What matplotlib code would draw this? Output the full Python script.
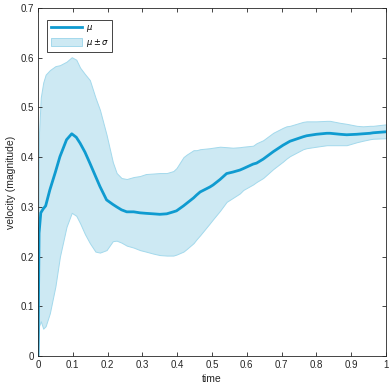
import matplotlib
matplotlib.use('Agg')
import matplotlib.pyplot as plt

# values
t = [0.0, 0.003, 0.008, 0.015, 0.022, 0.034, 0.05, 0.063, 0.082, 0.097, 0.11,
     0.121, 0.135, 0.149, 0.165, 0.178, 0.197, 0.215, 0.226, 0.24, 0.255,
     0.275, 0.293, 0.31, 0.331, 0.35, 0.37, 0.389, 0.398, 0.418, 0.427,
     0.447, 0.456, 0.466, 0.494, 0.503, 0.523, 0.542, 0.56, 0.58, 0.59,
     0.618, 0.628, 0.647, 0.676, 0.704, 0.714, 0.724, 0.762, 0.772, 0.8,
     0.83, 0.839, 0.868, 0.887, 0.916, 0.934, 0.954, 0.963, 1.0]
mu = [0.0, 0.247, 0.288, 0.296, 0.302, 0.334, 0.37, 0.401, 0.435, 0.447, 0.44,
      0.428, 0.41, 0.388, 0.362, 0.341, 0.314, 0.305, 0.3, 0.294, 0.29,
      0.29, 0.288, 0.287, 0.286, 0.285, 0.286, 0.29, 0.292, 0.302, 0.307,
      0.318, 0.324, 0.33, 0.34, 0.344, 0.355, 0.367, 0.37, 0.374, 0.377,
      0.386, 0.388, 0.396, 0.411, 0.424, 0.428, 0.432, 0.441, 0.443, 0.446,
      0.448, 0.448, 0.446, 0.445, 0.446, 0.447, 0.448, 0.449, 0.451]
upper = [0.0, 0.45, 0.52, 0.55, 0.566, 0.575, 0.583, 0.585, 0.592, 0.601, 0.596,
         0.58, 0.567, 0.555, 0.52, 0.495, 0.445, 0.39, 0.368, 0.358, 0.356,
         0.36, 0.362, 0.366, 0.367, 0.368, 0.368, 0.372, 0.378, 0.4, 0.405,
         0.414, 0.414, 0.416, 0.418, 0.419, 0.421, 0.42, 0.419, 0.42, 0.421,
         0.423, 0.428, 0.434, 0.449, 0.459, 0.462, 0.463, 0.471, 0.472, 0.472,
         0.473, 0.473, 0.469, 0.467, 0.463, 0.462, 0.463, 0.463, 0.466]
lower = [0.0, 0.06, 0.07, 0.055, 0.06, 0.086, 0.14, 0.2, 0.26, 0.288, 0.282,
         0.267, 0.245, 0.227, 0.21, 0.208, 0.213, 0.231, 0.232, 0.228, 0.222,
         0.218, 0.213, 0.21, 0.206, 0.203, 0.202, 0.202, 0.204, 0.21, 0.215,
         0.227, 0.235, 0.243, 0.267, 0.275, 0.292, 0.31, 0.318, 0.327, 0.334,
         0.345, 0.35, 0.358, 0.376, 0.391, 0.397, 0.402, 0.416, 0.418, 0.421,
         0.424, 0.424, 0.424, 0.424, 0.43, 0.433, 0.436, 0.437, 0.438]

line_col = '#0f9bd0'
fill_col = '#cde9f3'
edge_col = '#a3d9ec'
ink = '#262626'

plt.rcParams['font.family'] = ['Liberation Sans', 'DejaVu Sans']
plt.rcParams['mathtext.fontset'] = 'dejavusans'

fig = plt.figure(figsize=(3.91, 3.88), dpi=100)
ax = fig.add_axes([38 / 391, 32 / 388, 348 / 391, 348 / 388])

ax.fill_between(t, lower, upper, facecolor=fill_col, edgecolor=edge_col,
                linewidth=0.7, label=r'$\mu \pm \sigma$')
ax.plot(t, mu, color=line_col, linewidth=2.0, label=r'$\mu$')

ax.set_xlim(0, 1)
ax.set_ylim(0, 0.7)
ax.set_xticks([0, 0.1, 0.2, 0.3, 0.4, 0.5, 0.6, 0.7, 0.8, 0.9, 1])
ax.set_xticklabels(['0', '0.1', '0.2', '0.3', '0.4', '0.5', '0.6', '0.7', '0.8', '0.9', '1'])
ax.set_yticks([0, 0.1, 0.2, 0.3, 0.4, 0.5, 0.6, 0.7])
ax.set_yticklabels(['0', '0.1', '0.2', '0.3', '0.4', '0.5', '0.6', '0.7'])
ax.tick_params(direction='in', top=True, right=True, length=3, width=0.6,
               labelsize=7, colors=ink, pad=3)
for s in ax.spines.values():
    s.set_color(ink)
    s.set_linewidth(0.6)

ax.set_xlabel('time', fontsize=7.5, color=ink, labelpad=3)
ax.set_ylabel('velocity (magnitude)', fontsize=7.5, color=ink, labelpad=3)

h, l = ax.get_legend_handles_labels()
leg = ax.legend(h[::-1], l[::-1], loc='upper left', fontsize=6,
                frameon=True, fancybox=False, edgecolor=ink, framealpha=1,
                handlelength=3.7, handleheight=1.0, borderpad=0.4,
                labelspacing=0.3, handletextpad=0.5,
                bbox_to_anchor=(0.015, 0.978))
leg.get_frame().set_linewidth(0.6)

fig.savefig('out.png', dpi=100)
